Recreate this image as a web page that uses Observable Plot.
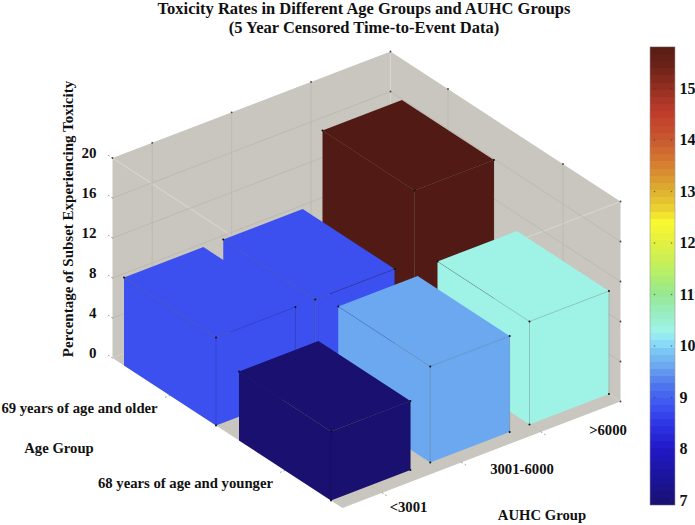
<!DOCTYPE html>
<html>
<head>
<meta charset="utf-8">
<script src="https://cdn.jsdelivr.net/npm/d3@7"></script>
<script src="https://cdn.jsdelivr.net/npm/@observablehq/plot@0.6"></script>
<style>
html,body{margin:0;padding:0;background:#fff;}
svg{display:block;}
</style>
</head>
<body>
<div id="chart"></div>
<script>
// ---- data ----
const ageGroups = ["68 years of age and younger", "69 years of age and older"];
const auhcGroups = ["<3001", "3001-6000", ">6000"];
const rateYounger = [6.9, 9.6, 10.3];
const rateOlder = [8.8, 8.8, 15.9];
const zTicks = [0, 4, 8, 12, 16, 20];
const colorbarTicks = [7, 8, 9, 10, 11, 12, 13, 14, 15];
const titleLines = ["Toxicity Rates in Different Age Groups and AUHC Groups", "(5 Year Censored Time-to-Event Data)"];
const colorStops = [6.9, 7.4, 8, 8.4, 8.8, 9.2, 9.6, 9.9, 10.1, 10.3, 10.7, 11, 11.5, 12, 12.4, 12.7, 13, 13.5, 14, 14.5, 15, 15.4, 15.9];
const colorRange = ["#1a1070","#1a1498","#2218c8","#2c30e0","#3c50f0","#4c74ec","#6ca8f0","#7cc8f4","#90e4f8","#9ff3e6","#98ecb8","#98e890","#bcf060","#e4f040","#f8f830","#e8cc30","#dfb030","#d68030","#c85830","#c03c2c","#943020","#6c2218","#521a14"];

// ---- oblique projection of the 3-D box ----
const origin = [342, 507.5], uVec = [-230, -150], vVec = [278, -106.5], zUnit = 10;
const px = (u, v) => origin[0] + u * uVec[0] + v * vVec[0];
const py = (u, v, z = 0) => origin[1] + u * uVec[1] + v * vVec[1] - z * zUnit;
const P = (u, v, z = 0) => ({x: px(u, v), y: py(u, v, z)});
const uCenter = i => 0.05 + 0.2 + i * 0.5;
const vCenter = j => (j * 2 + 1) / 7 * 1;
const uHalf = 0.2, vHalf = 1 / 7;
const barV = j => [0, 0.357, 0.714][j];

const zMax = zTicks[zTicks.length - 1];
const serif = "'Liberation Serif','Times New Roman',serif";
const wallFill = "#c8c6be";

const wallFaces = [
  {id: "floor", pts: [P(0,0), P(1,0), P(1,1), P(0,1)]},
  {id: "left", pts: [P(1,0), P(1,1), P(1,1,zMax), P(1,0,zMax)]},
  {id: "right", pts: [P(1,1), P(0,1), P(0,1,zMax), P(1,1,zMax)]}
].flatMap(f => f.pts.map(p => ({...p, id: f.id})));

const segment = (a, b, id) => [{...a, id}, {...b, id}];
const uTickPos = ageGroups.map((_, i) => 0.25 + i * 0.5);
const vTickPos = auhcGroups.map((_, j) => vCenter(j));
const gridLines = [
  ...zTicks.slice(1, -1).flatMap(z => [...segment(P(1,0,z), P(1,1,z), "l"+z), ...segment(P(1,1,z), P(0,1,z), "r"+z)]),
  ...vTickPos.flatMap(v => segment(P(1,v), P(1,v,zMax), "vl"+v)),
  ...uTickPos.flatMap(u => segment(P(u,1), P(u,1,zMax), "vr"+u))
];
const floorGrid = [
  ...vTickPos.flatMap(v => segment(P(0,v), P(1,v), "fv"+v)),
  ...uTickPos.flatMap(u => segment(P(u,0), P(u,1), "fu"+u))
];
const lightLines = [
  ...segment(P(1,0,zMax), P(0,0,zMax), "a"),
  ...segment(P(0,1,zMax), P(0,0,zMax), "b")
];

const tickStubs = [
  ...zTicks.flatMap(z => segment(P(1,0,z), P(1.025,0,z), "tz"+z)),
  ...vTickPos.flatMap(v => segment(P(0,v), P(-0.025,v), "tv"+v)),
  ...uTickPos.flatMap(u => segment(P(u,0), P(u,-0.025), "tu"+u))
];
const edgeDots = [
  ...zTicks.map(z => P(1,0,z)).slice(-1),
  ...zTicks.map(z => P(0,1,z)),
  ...zTicks.slice(-2).map(z => P(1,1,z)),
  ...vTickPos.map(v => P(1,v,zMax)),
  ...uTickPos.map(u => P(u,1,zMax))
];

// bars in painter's order, back to front
const bars = [];
[1, 0].forEach(i => [2, 1, 0].forEach(j => {
  const value = (i ? rateOlder : rateYounger)[j];
  bars.push({i, j, value});
}));

function barMarks(b) {
  const u0 = uCenter(b.i) - uHalf, u1 = uCenter(b.i) + uHalf;
  const v0 = barV(b.j), v1 = v0 + 2 * vHalf, z = b.value;
  const id = `${b.i}-${b.j}`;
  const faces = [
    {f: "l", pts: [P(u1,v0), P(u0,v0), P(u0,v0,z), P(u1,v0,z)]},
    {f: "r", pts: [P(u0,v0), P(u0,v1), P(u0,v1,z), P(u0,v0,z)]},
    {f: "t", pts: [P(u0,v0,z), P(u0,v1,z), P(u1,v1,z), P(u1,v0,z)]}
  ].flatMap(f => f.pts.map(p => ({...p, id: id + f.f, value: b.value})));
  const edges = [
    ...segment(P(u0,v0), P(u0,v0,z), "e1"),
    ...segment(P(u0,v1), P(u0,v1,z), "e2"),
    ...segment(P(u1,v0,z), P(u0,v0,z), "e3"),
    ...segment(P(u0,v0,z), P(u0,v1,z), "e4")
  ];
  const dots = [P(u0,v0,z), P(u0,v1,z), P(u1,v0,z)];
  if (b.i === 0) dots.push(P(u0,v0), P(u0,v1));
  if (b.i === 1 && b.j === 0) dots.push(P(u0,v0));
  return [
    Plot.line(faces, {x: "x", y: "y", z: "id", fill: "value", stroke: "none", curve: "linear-closed"}),
    Plot.line(edges, {x: "x", y: "y", z: "id", stroke: "#000", strokeOpacity: 0.22, strokeWidth: 0.7}),
    Plot.dot(dots, {x: "x", y: "y", r: 1, fill: "#111", stroke: "none"})
  ];
}

// ---- colour bar ----
const cbY = v => 500 - (v - 7) * 51.5;
const cbLow = 6.9, cbHigh = 15.8, cbLevels = 64, cbX = [650, 675];
const cbBands = d3.range(cbLevels).map(k => {
  const a = cbLow + (cbHigh - cbLow) * k / cbLevels, b = cbLow + (cbHigh - cbLow) * (k + 1) / cbLevels;
  return {y1: cbY(a), y2: cbY(b), value: (a + b) / 2};
});
const cbTickDots = colorbarTicks.flatMap(v => [0.16, 0.84].map(f => ({x: cbX[0] + f * (cbX[1] - cbX[0]), y: cbY(v)})));

// ---- text labels ----
const textBold = {fontFamily: serif, fontWeight: "bold", fill: "#111"};
const labelsAt = (rows, size, anchor, extra = {}) => Plot.text(rows, {x: "x", y: "y", text: "t", fontSize: size, textAnchor: anchor, lineAnchor: "middle", ...textBold, ...extra});

const chart = Plot.plot({
  width: 695,
  height: 525,
  margin: 0,
  style: {background: "#fff", overflow: "hidden"},
  x: {domain: [0, 695], range: [0, 695], axis: null},
  y: {domain: [0, 525], range: [0, 525], axis: null},
  color: {type: "linear", domain: colorStops, range: colorRange, clamp: true},
  marks: [
    Plot.line(wallFaces, {x: "x", y: "y", z: "id", fill: wallFill, stroke: "none", curve: "linear-closed"}),
    Plot.line(lightLines, {x: "x", y: "y", z: "id", stroke: "#d6d4cd", strokeWidth: 1.2}),
    Plot.line(floorGrid, {x: "x", y: "y", z: "id", stroke: "#c0beb6", strokeWidth: 0.6}),
    Plot.line(gridLines, {x: "x", y: "y", z: "id", stroke: "#b9b7af", strokeWidth: 0.8}),
    Plot.line(tickStubs, {x: "x", y: "y", z: "id", stroke: "#777", strokeWidth: 0.7, strokeDasharray: "1 3"}),
    Plot.dot(edgeDots, {x: "x", y: "y", r: 0.9, fill: "#444", stroke: "none"}),
    ...bars.flatMap(barMarks),
    Plot.rect(cbBands, {x1: () => cbX[0], x2: () => cbX[1], y1: "y1", y2: "y2", fill: "value", shapeRendering: "crispEdges"}),
    Plot.rect([{}], {x1: () => cbX[0], x2: () => cbX[1], y1: () => cbY(cbHigh), y2: () => cbY(cbLow), fill: "none", stroke: "#9a9a9a", strokeWidth: 0.6}),
    Plot.dot(cbTickDots, {x: "x", y: "y", r: 0.8, fill: "#333", fillOpacity: 0.6, stroke: "none"}),
    labelsAt(titleLines.map((t, k) => ({t, x: 363.5, y: 8 + k * 19})), 16.5, "middle"),
    labelsAt(colorbarTicks.map(v => ({t: String(v), x: 679, y: cbY(v)})), 16, "start"),
    labelsAt(zTicks.map(z => ({t: String(z), x: 96, y: 353 - z * 10})), 15, "end"),
    labelsAt([{t: "Percentage of Subset Experiencing Toxicity", x: 68, y: 218.5}], 15, "middle", {rotate: -90}),
    labelsAt([{t: ageGroups[1], x: 79, y: 408}], 14.7, "middle"),
    labelsAt([{t: ageGroups[0], x: 185, y: 483}], 14.7, "middle"),
    labelsAt([{t: "Age Group", x: 58.5, y: 448}], 14.7, "middle"),
    labelsAt([{t: auhcGroups[0], x: 408, y: 507}, {t: auhcGroups[1], x: 521.5, y: 469}, {t: auhcGroups[2], x: 607.5, y: 430}], 14.7, "middle"),
    labelsAt([{t: "AUHC Group", x: 541.5, y: 515}], 14.7, "middle")
  ]
});
document.getElementById("chart").appendChild(chart);
</script>
</body>
</html>
